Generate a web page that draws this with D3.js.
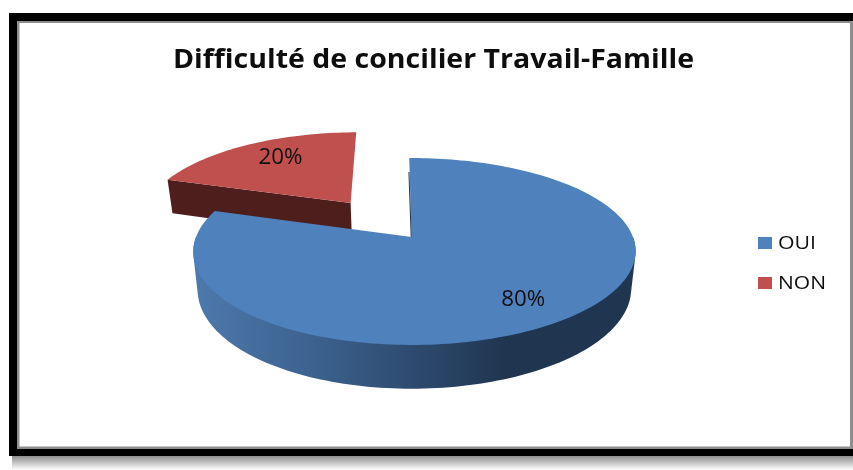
<!DOCTYPE html>
<html>
<head>
<meta charset="utf-8">
<style>
  html, body { margin: 0; padding: 0; background: #fff; }
  svg { display: block; }
  text { font-family: "Open Sans", sans-serif; fill: #111; }
</style>
<script src="https://cdn.jsdelivr.net/npm/d3@7"></script>
</head>
<body>
<div id="chart"></div>
<script>
var titleText = 'Difficulté de concilier Travail-Famille';
var categories = ['OUI', 'NON'];
var values = [80, 20];
var colors = ['#4f81bd', '#c0504d'];
var wallColors = ['#1f3550', '#4d1e1c'];
var explode = [0, 0.495];

var width = 853, height = 470;

// the pie is a tilted disc seen in perspective
var cx = 411.5, cy = 237, rx = 218.5, ry = 91.2, tilt = 0.155;
var depth = 37, bottomShrink = 0.98, sideShift = 3;

var svg = d3.select('#chart').append('svg')
  .attr('width', width)
  .attr('height', height);

var defs = svg.append('defs');

var shadow = defs.append('linearGradient')
  .attr('id', 'shadow')
  .attr('x1', 0).attr('y1', 0).attr('x2', 0).attr('y2', 1);
shadow.append('stop').attr('offset', 0).attr('stop-color', '#8f8f8f');
shadow.append('stop').attr('offset', 1).attr('stop-color', '#fff');

var wallGrad = defs.append('linearGradient')
  .attr('id', 'wall')
  .attr('gradientUnits', 'userSpaceOnUse')
  .attr('x1', 195).attr('y1', 0).attr('x2', 636).attr('y2', 0);
[[0, '#4d79ac'], [0.3, '#3a5f8b'], [0.5, '#2d4a6e'], [0.7, '#203650'], [1, '#1f3550']].forEach(function (s) {
  wallGrad.append('stop').attr('offset', s[0]).attr('stop-color', s[1]);
});

defs.append('filter').attr('id', 'soft')
  .append('feGaussianBlur').attr('stdDeviation', 0.45);

// frame
svg.append('rect').attr('x', 12).attr('y', 456).attr('width', width - 12).attr('height', 14)
  .attr('fill', 'url(#shadow)');
svg.append('rect').attr('x', 9).attr('y', 13).attr('width', width - 9).attr('height', 443)
  .attr('fill', '#000');
svg.append('rect').attr('x', 17).attr('y', 21).attr('width', width - 17).attr('height', 428)
  .attr('fill', '#8e8e8e');
svg.append('rect').attr('x', 19.5).attr('y', 23).attr('width', 830.5).attr('height', 423.5)
  .attr('fill', '#fff');

var pie = d3.pie().sort(null).startAngle(-0.012).endAngle(2 * Math.PI - 0.012);
var slices = pie(values);

// disc coordinates (radius r at angle a, slice pushed out along its middle) to screen
function project(d, i, a, r, z) {
  var mid = (d.startAngle + d.endAngle) / 2;
  var side = r * Math.sin(a);
  var u = explode[i] * Math.sin(mid) + side;
  var v = explode[i] * Math.cos(mid) + r * Math.cos(a);
  var w = 1 + tilt * v;
  var x = cx + rx * u / w + sideShift * side * side;
  var y = cy - ry * v / w;
  if (z) {
    x = cx + (x - cx) * bottomShrink;
    y += depth / w;
  }
  return [x, y];
}

var line = d3.line().curve(d3.curveLinearClosed);

function rim(d, i, from, to, z) {
  var n = Math.max(2, Math.ceil((to - from) * 40));
  return d3.range(n + 1).map(function (k) {
    return project(d, i, from + (to - from) * k / n, 1, z);
  });
}

var chart = svg.append('g');

// slices are drawn back to front: NON first, then OUI on top of it
[1, 0].forEach(function (i) {
  var d = slices[i];
  var g = chart.append('g');

  if (i === 0) {
    // outer wall of the big slice, only the half facing the viewer shows
    var front = rim(d, i, Math.PI / 2, 3 * Math.PI / 2, false)
      .concat(rim(d, i, Math.PI / 2, 3 * Math.PI / 2, true));
    g.append('path')
      .attr('d', line(d3.polygonHull(front)))
      .attr('fill', 'url(#wall)');
  } else {
    // cut face turned towards the viewer
    var a = d.startAngle;
    g.append('path')
      .attr('d', line([
        project(d, i, a, 0, false),
        project(d, i, a, 1, false),
        project(d, i, a, 1, true),
        project(d, i, a, 0, true)
      ]))
      .attr('fill', wallColors[i]);
  }

  // top face
  g.append('path')
    .attr('d', line([project(d, i, 0, 0, false)].concat(rim(d, i, d.startAngle, d.endAngle, false))))
    .attr('fill', colors[i]);

  if (i === 0) {
    // dark sliver along the straight edge next to the gap
    var p0 = project(d, i, d.startAngle, 0, false);
    var p1 = project(d, i, d.startAngle, 1, false);
    g.append('path')
      .attr('d', d3.line()([[p0[0] - 0.3, p0[1]], [p1[0] - 0.3, p1[1] + 14]]))
      .attr('fill', 'none')
      .attr('stroke', wallColors[0])
      .attr('stroke-width', 1);
  }
});

var texts = svg.append('g').attr('filter', 'url(#soft)');

// data labels
slices.forEach(function (d, i) {
  var mid = (d.startAngle + d.endAngle) / 2;
  var p = project(d, i, mid, 0.77, false);
  texts.append('text')
    .attr('x', p[0] + (i === 1 ? 11 : 0))
    .attr('y', p[1] + 7)
    .attr('text-anchor', 'middle')
    .attr('font-size', 21)
    .attr('textLength', 44)
    .attr('lengthAdjust', 'spacingAndGlyphs')
    .text(values[i] + '%');
});

// title
texts.append('text')
  .attr('x', 173)
  .attr('y', 68)
  .attr('font-size', 27)
  .attr('font-weight', 700)
  .attr('textLength', 521)
  .attr('lengthAdjust', 'spacingAndGlyphs')
  .text(titleText);

// legend
var legendY = d3.scalePoint().domain(categories).range([243, 283]);
var legendWidth = d3.scaleOrdinal().domain(categories).range([38, 48]);

categories.forEach(function (c, i) {
  svg.append('rect')
    .attr('x', 758)
    .attr('y', legendY(c) - 6)
    .attr('width', 14)
    .attr('height', 12)
    .attr('fill', colors[i]);
  texts.append('text')
    .attr('x', 778)
    .attr('y', legendY(c) + 6)
    .attr('font-size', 19)
    .attr('textLength', legendWidth(c))
    .attr('lengthAdjust', 'spacingAndGlyphs')
    .text(c);
});
</script>
</body>
</html>
